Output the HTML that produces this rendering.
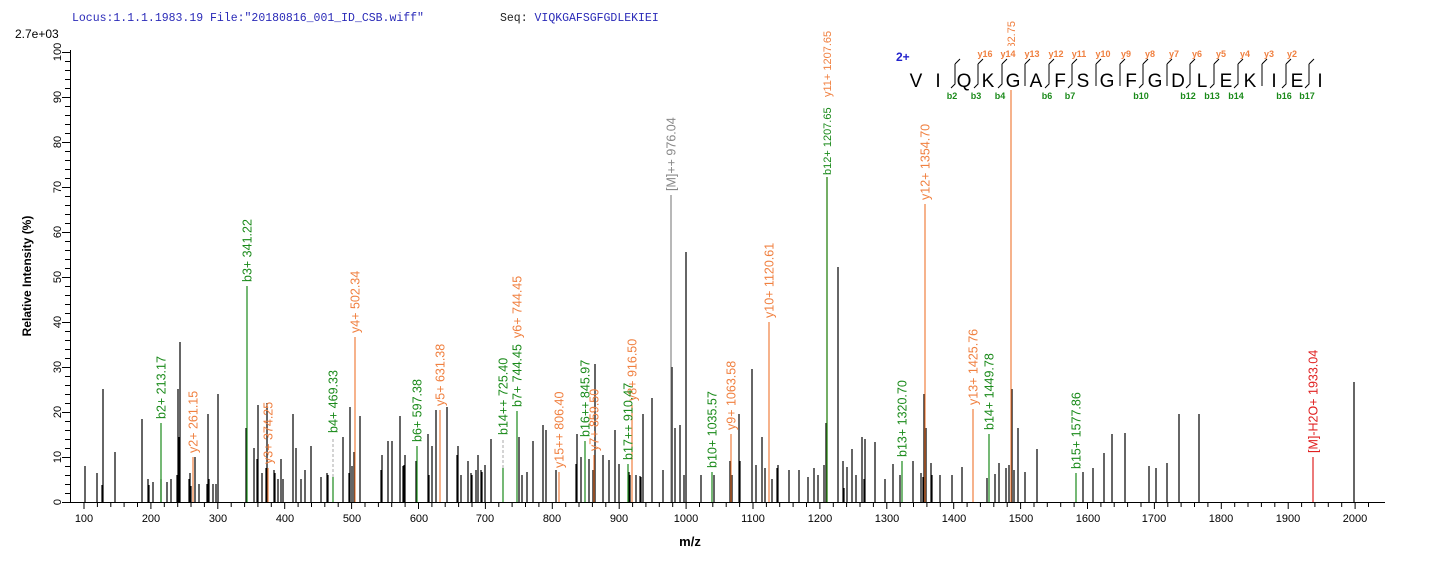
<!DOCTYPE html>
<html><head><meta charset="utf-8"><style>
html,body{margin:0;padding:0;background:#fff;}
svg{display:block;font-family:"Liberation Sans",Arial,sans-serif;}
</style></head><body>
<svg width="1436" height="562" viewBox="0 0 1436 562" xmlns="http://www.w3.org/2000/svg">
<text x="72" y="21" font-family="Liberation Mono,monospace" font-size="11.5" fill="#2a2ab8">Locus:1.1.1.1983.19 File:"20180816_001_ID_CSB.wiff"</text>
<text x="500" y="21" font-family="Liberation Mono,monospace" font-size="11.5" fill="#222">Seq: <tspan fill="#2a2ab8">VIQKGAFSGFGDLEKIEI</tspan></text>
<text x="15" y="38" font-size="12" fill="#000">2.7e+03</text>
<text transform="translate(31,276) rotate(-90)" font-size="12" font-weight="bold" text-anchor="middle">Relative   Intensity (%)</text>
<text x="690" y="546" font-size="13" font-weight="bold" text-anchor="middle">m/z</text>
<g stroke="#000" stroke-width="1" fill="none">
<path d="M70.5 50 V502.5 H1385"/>
<path d="M62 502.5H70 M65 493.5H70 M65 484.5H70 M65 475.5H70 M65 466.5H70 M62 457.5H70 M65 448.5H70 M65 439.5H70 M65 430.5H70 M65 421.5H70 M62 412.5H70 M65 403.5H70 M65 394.5H70 M65 385.5H70 M65 376.5H70 M62 367.5H70 M65 358.5H70 M65 349.5H70 M65 340.5H70 M65 331.5H70 M62 322.5H70 M65 313.5H70 M65 304.5H70 M65 295.5H70 M65 286.5H70 M62 277.5H70 M65 268.5H70 M65 259.5H70 M65 250.5H70 M65 241.5H70 M62 232.5H70 M65 223.5H70 M65 214.5H70 M65 205.5H70 M65 196.5H70 M62 187.5H70 M65 178.5H70 M65 169.5H70 M65 160.5H70 M65 151.5H70 M62 142.5H70 M65 133.5H70 M65 124.5H70 M65 115.5H70 M65 106.5H70 M62 97.5H70 M65 88.5H70 M65 79.5H70 M65 70.5H70 M65 61.5H70 M62 52.5H70"/>
<path d="M84 502V509 M97.4 502V507 M110.8 502V507 M124.1 502V507 M137.5 502V507 M150.9 502V509 M164.3 502V507 M177.7 502V507 M191 502V507 M204.4 502V507 M217.8 502V509 M231.2 502V507 M244.6 502V507 M257.9 502V507 M271.3 502V507 M284.7 502V509 M298.1 502V507 M311.5 502V507 M324.8 502V507 M338.2 502V507 M351.6 502V509 M365 502V507 M378.4 502V507 M391.7 502V507 M405.1 502V507 M418.5 502V509 M431.9 502V507 M445.2 502V507 M458.6 502V507 M472 502V507 M485.4 502V509 M498.8 502V507 M512.1 502V507 M525.5 502V507 M538.9 502V507 M552.3 502V509 M565.7 502V507 M579 502V507 M592.4 502V507 M605.8 502V507 M619.2 502V509 M632.6 502V507 M645.9 502V507 M659.3 502V507 M672.7 502V507 M686.1 502V509 M699.5 502V507 M712.8 502V507 M726.2 502V507 M739.6 502V507 M753 502V509 M766.4 502V507 M779.7 502V507 M793.1 502V507 M806.5 502V507 M819.9 502V509 M833.3 502V507 M846.6 502V507 M860 502V507 M873.4 502V507 M886.8 502V509 M900.2 502V507 M913.5 502V507 M926.9 502V507 M940.3 502V507 M953.7 502V509 M967.1 502V507 M980.4 502V507 M993.8 502V507 M1007.2 502V507 M1020.6 502V509 M1034 502V507 M1047.3 502V507 M1060.7 502V507 M1074.1 502V507 M1087.5 502V509 M1100.9 502V507 M1114.2 502V507 M1127.6 502V507 M1141 502V507 M1154.4 502V509 M1167.8 502V507 M1181.1 502V507 M1194.5 502V507 M1207.9 502V507 M1221.3 502V509 M1234.7 502V507 M1248 502V507 M1261.4 502V507 M1274.8 502V507 M1288.2 502V509 M1301.6 502V507 M1314.9 502V507 M1328.3 502V507 M1341.7 502V507 M1355.1 502V509 M1368.5 502V507"/>
</g>
<g font-size="11" text-anchor="middle" fill="#000">
<text transform="translate(61,502) rotate(-90)">0</text>
<text transform="translate(61,457) rotate(-90)">10</text>
<text transform="translate(61,412) rotate(-90)">20</text>
<text transform="translate(61,367) rotate(-90)">30</text>
<text transform="translate(61,322) rotate(-90)">40</text>
<text transform="translate(61,277) rotate(-90)">50</text>
<text transform="translate(61,232) rotate(-90)">60</text>
<text transform="translate(61,187) rotate(-90)">70</text>
<text transform="translate(61,142) rotate(-90)">80</text>
<text transform="translate(61,97) rotate(-90)">90</text>
<text transform="translate(61,52) rotate(-90)">100</text>
</g>
<g font-size="11" text-anchor="middle" fill="#000">
<text x="84" y="522">100</text><text x="151" y="522">200</text><text x="218" y="522">300</text><text x="285" y="522">400</text><text x="352" y="522">500</text><text x="419" y="522">600</text><text x="485" y="522">700</text><text x="552" y="522">800</text><text x="619" y="522">900</text><text x="686" y="522">1000</text><text x="753" y="522">1100</text><text x="820" y="522">1200</text><text x="887" y="522">1300</text><text x="954" y="522">1400</text><text x="1021" y="522">1500</text><text x="1088" y="522">1600</text><text x="1154" y="522">1700</text><text x="1221" y="522">1800</text><text x="1288" y="522">1900</text><text x="1355" y="522">2000</text>
</g>
<path stroke="#000" stroke-width="1.2" fill="none" d="M85 502V466M97 502V473M102 502V485M103 502V389M115 502V452M142 502V419M148 502V479M149 502V485M153 502V482M161 502V479M167 502V482M171 502V479M177 502V475M178 502V389M179 502V437M180 502V342M189 502V479M190 502V473M191 502V486M195 502V457M199 502V484M207 502V484M208 502V414M209 502V479M213 502V484M216 502V484M218 502V394M246 502V428M254 502V448M257 502V459M258 502V405M262 502V473M266 502V468M267 502V403M274 502V470M275 502V473M278 502V479M281 502V459M283 502V479M293 502V414M296 502V448M301 502V479M305 502V470M311 502V446M321 502V477M327 502V473M328 502V475M343 502V437M349 502V473M350 502V407M352 502V466M354 502V452M360 502V416M381 502V470M382 502V455M388 502V441M392 502V441M400 502V416M403 502V466M404 502V465M405 502V455M416 502V461M428 502V434M429 502V475M432 502V446M436 502V410M447 502V407M457 502V455M458 502V446M461 502V475M468 502V461M471 502V473M472 502V475M476 502V470M478 502V455M481 502V470M482 502V472M485 502V465M491 502V439M519 502V437M522 502V475M527 502V472M533 502V441M543 502V425M546 502V430M556 502V470M576 502V464M577 502V434M581 502V457M589 502V459M593 502V470M595 502V364M603 502V455M609 502V460M615 502V430M619 502V464M629 502V472M630 502V475M636 502V475M640 502V476M641 502V477M643 502V414M652 502V398M663 502V470M672 502V367M675 502V428M680 502V425M684 502V475M686 502V252M701 502V475M714 502V475M730 502V461M732 502V475M739 502V414M740 502V461M752 502V369M756 502V465M762 502V437M765 502V468M772 502V479M777 502V468M778 502V465M789 502V470M799 502V470M808 502V477M814 502V468M818 502V475M824 502V465M826 502V423M838 502V267M843 502V461M844 502V488M847 502V467M852 502V449M856 502V475M862 502V437M864 502V479M865 502V439M875 502V442M885 502V479M893 502V464M900 502V475M913 502V461M921 502V473M923 502V477M924 502V394M926 502V428M931 502V463M932 502V475M940 502V475M952 502V475M962 502V467M987 502V478M995 502V474M999 502V463M1006 502V468M1009 502V465M1012 502V389M1014 502V470M1018 502V428M1025 502V472M1037 502V449M1083 502V472M1093 502V468M1104 502V453M1112 502V434M1125 502V433M1149 502V466M1156 502V468M1167 502V463M1179 502V414M1199 502V414M1354 502V382"/>
<path stroke="#aaa" stroke-width="1" stroke-dasharray="3,2" fill="none" d="M333 477V437M503 468V439"/>
<path stroke="#f08040" stroke-width="1.2" fill="none" d="M193 502V457M268 502V468M355 502V337M440 502V410M559 502V472M594 502V455M632 502V405M731 502V434M769 502V322M827 502V177M925 502V204M973 502V409M1011 502V90"/>
<path stroke="#888" stroke-width="1.2" fill="none" d="M671 502V195"/>
<path stroke="#e02020" stroke-width="1.2" fill="none" d="M1313 502V457"/>
<path stroke="#1a8a1a" stroke-width="1.2" fill="none" d="M161 502V423M247 502V286M333 502V477M417 502V446M503 502V468M517 502V411M585 502V441M628 502V464M712 502V472M827 502V177M902 502V461M989 502V434M1076 502V473"/>
<g font-size="12.5">
<g fill="#f08040">
<text transform="translate(197.5,453) rotate(-90)">y2+ 261.15</text>
<text transform="translate(272.5,464) rotate(-90)">y3+ 374.25</text>
<text transform="translate(359.5,333) rotate(-90)">y4+ 502.34</text>
<text transform="translate(444.5,406) rotate(-90)">y5+ 631.38</text>
<text transform="translate(521.5,338) rotate(-90)">y6+ 744.45</text>
<text transform="translate(563.5,468) rotate(-90)">y15++ 806.40</text>
<text transform="translate(598.5,451) rotate(-90)">y7+ 859.50</text>
<text transform="translate(636.5,401) rotate(-90)">y8+ 916.50</text>
<text transform="translate(735.5,430) rotate(-90)">y9+ 1063.58</text>
<text transform="translate(773.5,318) rotate(-90)">y10+ 1120.61</text>
<text transform="translate(831,97) rotate(-90)" font-size="11">y11+ 1207.65</text>
<text transform="translate(929.5,200) rotate(-90)">y12+ 1354.70</text>
<text transform="translate(977.5,405) rotate(-90)">y13+ 1425.76</text>
<text transform="translate(1015,88) rotate(-90)" font-size="11">y14+ 1482.75</text>
</g>
<g fill="#1a8a1a">
<text transform="translate(165.5,419) rotate(-90)">b2+ 213.17</text>
<text transform="translate(251.5,282) rotate(-90)">b3+ 341.22</text>
<text transform="translate(337.5,433) rotate(-90)">b4+ 469.33</text>
<text transform="translate(421.5,442) rotate(-90)">b6+ 597.38</text>
<text transform="translate(507.5,435) rotate(-90)">b14++ 725.40</text>
<text transform="translate(521.5,407) rotate(-90)">b7+ 744.45</text>
<text transform="translate(589.5,437) rotate(-90)">b16++ 845.97</text>
<text transform="translate(632.5,460) rotate(-90)">b17++ 910.47</text>
<text transform="translate(716.5,468) rotate(-90)">b10+ 1035.57</text>
<text transform="translate(831,175) rotate(-90)" font-size="11">b12+ 1207.65</text>
<text transform="translate(906.5,457) rotate(-90)">b13+ 1320.70</text>
<text transform="translate(993.5,430) rotate(-90)">b14+ 1449.78</text>
<text transform="translate(1080.5,469) rotate(-90)">b15+ 1577.86</text>
</g>
<text transform="translate(675.5,191) rotate(-90)" fill="#888">[M]++ 976.04</text>
<text transform="translate(1317.5,453) rotate(-90)" fill="#e02020">[M]-H2O+ 1933.04</text>
</g>
<!-- white backdrop behind letters -->
<g fill="#fff">
<rect x="1003" y="46" width="18" height="42"/>
</g>
<text x="896" y="61" font-size="12" font-weight="bold" fill="#2222cc">2+</text>
<g font-size="19" text-anchor="middle" fill="#000">
<text x="916" y="87">V</text><text x="938" y="87">I</text><text x="964" y="87">Q</text><text x="988" y="87">K</text><text x="1013" y="87">G</text><text x="1036" y="87">A</text><text x="1060" y="87">F</text><text x="1083" y="87">S</text><text x="1107" y="87">G</text><text x="1131" y="87">F</text><text x="1155" y="87">G</text><text x="1178" y="87">D</text><text x="1202" y="87">L</text><text x="1226" y="87">E</text><text x="1250" y="87">K</text><text x="1274" y="87">I</text><text x="1297" y="87">E</text><text x="1320" y="87">I</text>
</g>
<g stroke="#000" stroke-width="1" fill="none">
<path d="M955 64V84L951 88M978 64L983 59M978 64V84L974 88M1002 64L1007 59M1002 64V84L998 88M1025 64L1030 59M1025 64V86M1049 64L1054 59M1049 64V84L1045 88M1072 64L1077 59M1072 64V84L1068 88M1096 64L1101 59M1096 64V86M1120 64L1125 59M1120 64V86M1143 64L1148 59M1143 64V84L1139 88M1167 64L1172 59M1167 64V86M1190 64L1195 59M1190 64V84L1186 88M1214 64L1219 59M1214 64V84L1210 88M1238 64L1243 59M1238 64V84L1234 88M1262 64L1267 59M1262 64V86M1286 64L1291 59M1286 64V84L1282 88M1309 64L1314 59M1309 64V84L1305 88M955 64L960 59"/>
</g>
<g font-size="9" font-weight="bold" fill="#f08040" text-anchor="middle">
<text x="985" y="57">y16</text><text x="1008" y="57">y14</text><text x="1032" y="57">y13</text><text x="1056" y="57">y12</text><text x="1079" y="57">y11</text><text x="1103" y="57">y10</text><text x="1126" y="57">y9</text><text x="1150" y="57">y8</text><text x="1174" y="57">y7</text><text x="1197" y="57">y6</text><text x="1221" y="57">y5</text><text x="1245" y="57">y4</text><text x="1269" y="57">y3</text><text x="1292" y="57">y2</text>
</g>
<g font-size="9" font-weight="bold" fill="#1a8a1a" text-anchor="middle">
<text x="952" y="99">b2</text><text x="976" y="99">b3</text><text x="1000" y="99">b4</text><text x="1047" y="99">b6</text><text x="1070" y="99">b7</text><text x="1141" y="99">b10</text><text x="1188" y="99">b12</text><text x="1212" y="99">b13</text><text x="1236" y="99">b14</text><text x="1284" y="99">b16</text><text x="1307" y="99">b17</text>
</g>
</svg>
</body></html>
